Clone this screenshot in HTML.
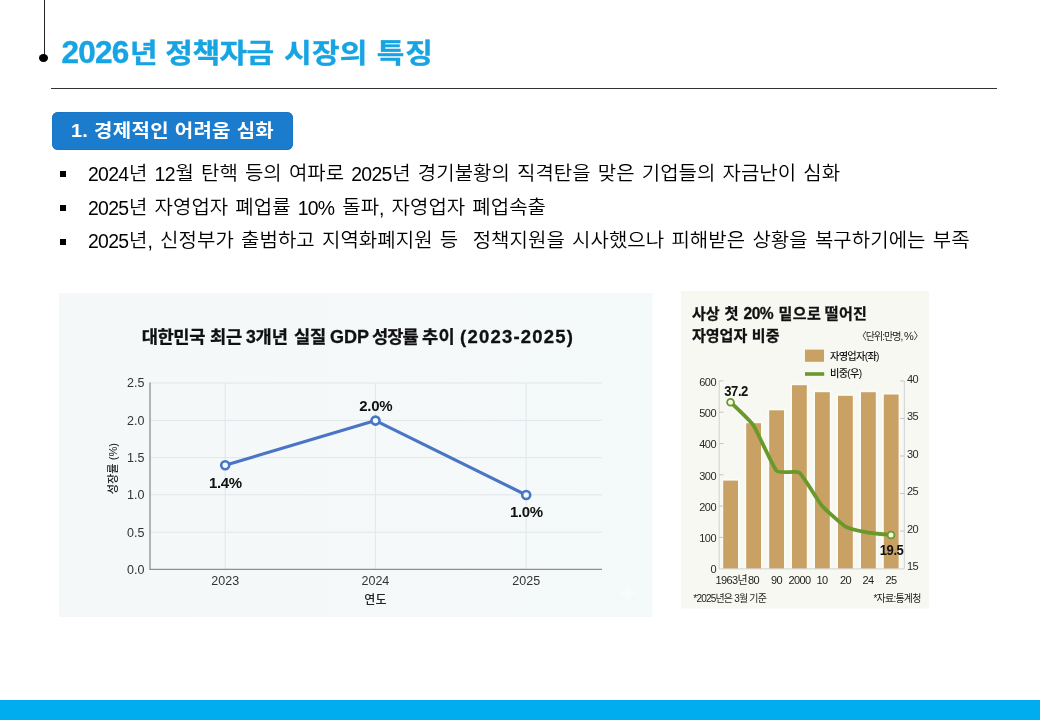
<!DOCTYPE html>
<html lang="ko">
<head>
<meta charset="utf-8">
<title>2026년 정책자금 시장의 특징</title>
<style>
html,body{margin:0;padding:0;background:#fff;}
body{width:1040px;height:720px;position:relative;overflow:hidden;font-family:"Liberation Sans","Noto Sans CJK KR",sans-serif;color:#000;}
.abs{position:absolute;}
#vline{left:44px;top:0;width:1px;height:58px;background:#222;}
#dot{left:39.2px;top:54px;width:8.8px;height:8.2px;border-radius:50%;background:#000;}
#title{left:61.5px;top:33px;font-size:30px;letter-spacing:-0.5px;-webkit-text-stroke:0.4px #17a4e3;line-height:40px;font-weight:700;color:#17a4e3;white-space:nowrap;transform:scaleY(.9);transform-origin:0 30.4px;}
#title i{font-style:normal;font-size:31.5px;letter-spacing:-0.8px;margin-right:1.6px;display:inline-block;line-height:1;transform:scaleY(1.111);transform-origin:0 84.6%;}
#hline{left:51px;top:88px;width:946px;height:1px;background:#333;}
#pill{left:52px;top:112px;width:241px;height:38px;border-radius:6px;background:#1b7bcd;box-shadow:inset 0 0 0 1px #1a76c5;color:#fff;font-weight:700;font-size:20px;line-height:38px;text-align:center;white-space:nowrap;letter-spacing:0.3px;}
#pill span{display:inline-block;transform:scaleY(.93);transform-origin:50% 50%;position:relative;top:-1px;}
.bl{left:88px;font-size:20px;font-weight:350;line-height:26px;white-space:nowrap;color:#000;word-spacing:1.6px;transform:scaleY(.95);transform-origin:0 19.9px;}
.bl i{font-style:normal;font-size:19.4px;letter-spacing:-0.7px;margin-right:0.7px;display:inline-block;line-height:1;position:relative;top:0.9px;transform:scaleY(1.053);transform-origin:0 84.6%;}
.bu{left:60px;width:6px;height:6px;background:#000;}
#footer{left:0;top:700px;width:1040px;height:20px;background:#00adef;}
#c1{left:59px;top:293px;}
#c2{left:681px;top:291px;}
</style>
</head>
<body>
<div id="vline" class="abs"></div>
<div id="dot" class="abs"></div>
<div id="title" class="abs"><i>2026</i>년 <span style="margin-left:0.4px">정책자금</span> <span style="margin-left:2.5px;letter-spacing:0.3px">시장의</span> <span style="margin-left:1.2px;letter-spacing:0.8px">특징</span></div>
<div id="hline" class="abs"></div>
<div id="pill" class="abs"><span>1. 경제적인 어려움 심화</span></div>

<div class="abs bu" style="top:171px"></div>
<div class="abs bl" id="b1" style="top:160.1px"><i>2024</i>년 <i>12</i>월 탄핵 등의 여파로 <i>2025</i>년 경기불황의 직격탄을 맞은 기업들의 자금난이 심화</div>
<div class="abs bu" style="top:205px"></div>
<div class="abs bl" id="b2" style="top:193.7px"><i>2025</i>년 자영업자 폐업률 <i>10%</i> 돌파<i>,</i> 자영업자 폐업속출</div>
<div class="abs bu" style="top:238.5px"></div>
<div class="abs bl" id="b3" style="top:227.3px;letter-spacing:0.04px"><i>2025</i>년<i>,</i> 신정부가 출범하고 지역화폐지원 등&nbsp; 정책지원을 시사했으나 피해받은 상황을 복구하기에는 부족</div>

<svg id="c1" class="abs" width="594" height="324" viewBox="0 0 594 324" font-family="'Liberation Sans','Noto Sans CJK KR',sans-serif">
<defs><linearGradient id="g1" x1="0" y1="0" x2="1" y2="0"><stop offset="0" stop-color="#f4f8f9"/><stop offset="1" stop-color="#f4f9f9"/></linearGradient></defs>
<rect x="0" y="0" width="593.5" height="324" fill="url(#g1)"/>
<path d="M569 289.5C570 296 573 299 579.5 300C573 301 570 304 569 310.5C568 304 565 301 558.5 300C565 299 568 296 569 289.5Z" fill="#fff" opacity="0.35"/>
<text y="49.6" font-weight="700" fill="#111" stroke="#111" stroke-width="0.3"><tspan x="82.8" font-size="17.6" letter-spacing="-0.4">대한민국</tspan> <tspan x="151" font-size="17.6" letter-spacing="-0.3">최근</tspan> <tspan x="186.9" font-size="17.6" letter-spacing="-0.1">3개년</tspan> <tspan x="234.9" font-size="17.6">실질</tspan> <tspan x="270.9" font-size="18">GDP</tspan> <tspan x="313.1" font-size="17.6" letter-spacing="-1.0">성장률</tspan> <tspan x="363.1" font-size="17.6" letter-spacing="0.3">추이</tspan> <tspan x="401.1" font-size="18.5" letter-spacing="1.2">(2023-2025)</tspan></text>
<g stroke="#e1e6eb" stroke-width="1" fill="none">
<path d="M91 90H543M91 127.4H543M91 164.6H543M91 201.8H543M91 239.2H543"/>
<path d="M166.2 90V276M316.4 90V276M467.2 90V276"/>
</g>
<path d="M91 89.5V276.3H543" stroke="#8c8f93" stroke-width="1.3" fill="none"/>
<g font-size="12.5" fill="#333" text-anchor="end">
<text x="85.5" y="94.3">2.5</text>
<text x="85.5" y="131.7">2.0</text>
<text x="85.5" y="168.9">1.5</text>
<text x="85.5" y="206.1">1.0</text>
<text x="85.5" y="243.5">0.5</text>
<text x="85.5" y="280.5">0.0</text>
</g>
<g font-size="12.5" fill="#333" text-anchor="middle">
<text x="166.2" y="292">2023</text>
<text x="316.4" y="292">2024</text>
<text x="467.2" y="292">2025</text>
<text x="316.4" y="310.8" font-size="12" font-weight="500" fill="#222">연도</text>
</g>
<text transform="translate(57.6 175.6) rotate(-90)" text-anchor="middle" font-size="11.2" font-weight="500" fill="#222">성장률 (%)</text>
<polyline points="166.2,172.3 316.5,127.6 467.2,202" fill="none" stroke="#4a75c4" stroke-width="3.1" stroke-linejoin="round"/>
<g fill="#eefbff" stroke="#4a75c4" stroke-width="2.6">
<circle cx="166.2" cy="172.3" r="4"/>
<circle cx="316.5" cy="127.6" r="4"/>
<circle cx="467.2" cy="202" r="4"/>
</g>
<g font-size="15" font-weight="700" fill="#111" text-anchor="middle" letter-spacing="-0.3">
<text x="166.4" y="194.6">1.4%</text>
<text x="316.8" y="117.7">2.0%</text>
<text x="467.4" y="224.4">1.0%</text>
</g>
</svg>
<!--C2S--><svg id="c2" class="abs" width="248" height="318" viewBox="0 0 248 318" font-family="'Liberation Sans','Noto Sans CJK KR',sans-serif">
<rect x="0" y="0" width="248" height="317.6" fill="#f8f8f3"/>
<g font-weight="700" fill="#111" stroke="#111" stroke-width="0.3">
<text y="28.3"><tspan x="11.0" font-size="15">사상</tspan> <tspan x="43.6" font-size="15.3">첫</tspan> <tspan x="62.5" font-size="15.6" letter-spacing="-0.5">20%</tspan> <tspan x="97.4" font-size="15" letter-spacing="0.5">밑으로</tspan> <tspan x="143.7" font-size="15" letter-spacing="0.4">떨어진</tspan></text>
<text y="49.6"><tspan x="11.0" font-size="15">자영업자</tspan> <tspan x="70.8" font-size="15" letter-spacing="0.2">비중</tspan></text>
</g>
<text x="241.4" y="49.3" text-anchor="end" font-size="10" letter-spacing="-1" fill="#222">〈단위:만명, <tspan font-size="11" letter-spacing="-0.4">%</tspan>〉</text>
<rect x="124" y="58.6" width="19" height="12.2" fill="#c9a165"/>
<path d="M124 83H143.2" stroke="#69982b" stroke-width="3.6"/>
<g font-size="10.2" font-weight="500" fill="#111" letter-spacing="-0.7">
<text x="149" y="68.5">자영업자(좌)</text>
<text x="149" y="86">비중(우)</text>
</g>
<g fill="#c9a165" stroke="#fdfcf7" stroke-width="3.5" stroke-opacity="0.8" paint-order="stroke"><rect x="42.2" y="189.6" width="14.8" height="88.1"/><rect x="65.2" y="132.2" width="14.8" height="145.5"/><rect x="88.2" y="119.3" width="14.8" height="158.4"/><rect x="111" y="94.2" width="14.8" height="183.5"/><rect x="134" y="101.2" width="14.8" height="176.5"/><rect x="157" y="104.8" width="14.8" height="172.9"/><rect x="180" y="101.2" width="14.8" height="176.5"/><rect x="202.8" y="103.5" width="14.8" height="174.2"/></g>
<path d="M38.2 89.9V277.9H223.3V90" fill="none" stroke="#cfd0d2" stroke-width="1"/>
<path d="M38.2 89.9h4.2M38.2 121.2h4.2M38.2 152.5h4.2M38.2 183.8h4.2M38.2 215.1h4.2M38.2 246.4h4.2M223.3 90.0h-4.2M223.3 127.5h-4.2M223.3 165.0h-4.2M223.3 202.5h-4.2M223.3 240.0h-4.2" fill="none" stroke="#c4c5c7" stroke-width="1"/>
<g font-size="11" fill="#2a2a2a" text-anchor="end" letter-spacing="-0.5"><text x="35" y="95.1">600</text>
<text x="35" y="125.9">500</text>
<text x="35" y="157.2">400</text>
<text x="35" y="188.6">300</text>
<text x="35" y="219.8">200</text>
<text x="35" y="251.2">100</text>
<text x="35" y="282.4">0</text></g>
<g font-size="11" fill="#2a2a2a" text-anchor="start" letter-spacing="-0.5"><text x="225.9" y="92.0">40</text>
<text x="225.9" y="129.2">35</text>
<text x="225.9" y="166.7">30</text>
<text x="225.9" y="204.1">25</text>
<text x="225.9" y="241.7">20</text>
<text x="225.9" y="279.3">15</text></g>
<g font-size="11" fill="#222" text-anchor="middle" letter-spacing="-0.6"><text x="50.3" y="292.6">1963년</text>
<text x="72.5" y="292.6">80</text>
<text x="95.5" y="292.6">90</text>
<text x="118.5" y="292.6">2000</text>
<text x="141" y="292.6">10</text>
<text x="164.5" y="292.6">20</text>
<text x="187" y="292.6">24</text>
<text x="210" y="292.6">25</text></g>
<path d="M49.5 111.2C51.19 112.91 69.13 129.47 72.5 134.5C75.87 139.53 92.13 176.33 95.5 179.8C98.87 183.27 115.16 179.23 118.5 181.8C121.84 184.37 137.63 210.85 141 214.8C144.37 218.75 161.13 233.63 164.5 235.6C167.87 237.57 183.66 240.98 187 241.6C190.34 242.22 208.31 243.82 210 244" fill="none" stroke="#69982b" stroke-width="3.8" stroke-linejoin="round" stroke-linecap="round"/>
<circle cx="49.5" cy="111.2" r="3.4" fill="#f6f9e4" stroke="#69982b" stroke-width="1.8"/>
<circle cx="210" cy="244" r="3.4" fill="#f6f9e4" stroke="#69982b" stroke-width="1.8"/>
<g font-size="14.2" font-weight="700" fill="#111" letter-spacing="-0.5">
<g transform="translate(43.3 105.2) scale(0.92 1)"><text>37.2</text></g>
<g transform="translate(198.8 263.6) scale(0.92 1)"><text>19.5</text></g>
</g>
<g font-size="10" fill="#222" letter-spacing="-0.8">
<text x="12.3" y="311.2">*2025년은 3월 기준</text>
<text x="239.6" y="311.2" text-anchor="end">*자료:통계청</text>
</g>
</svg><!--C2E-->
<div id="footer" class="abs"></div>
</body>
</html>
